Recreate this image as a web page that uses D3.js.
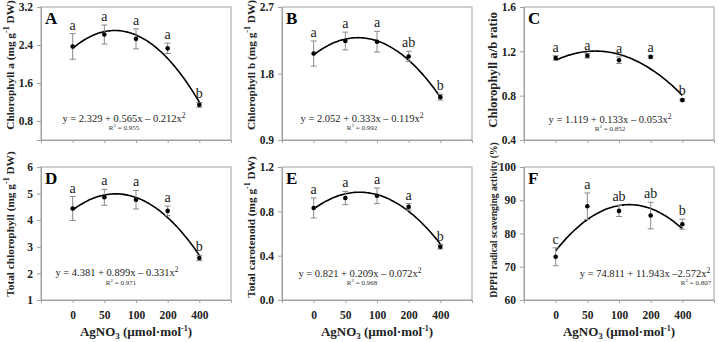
<!DOCTYPE html>
<html>
<head>
<meta charset="utf-8">
<script src="https://cdn.jsdelivr.net/npm/d3@7"></script>
<style>
  body { margin: 0; background: #fff; }
  text { font-family: "Liberation Serif", "Times New Roman", serif; }
</style>
</head>
<body>
<div id="chart"></div>
<script>
// doses of AgNO3 (umol mol-1)
const doses = ["0", "50", "100", "200", "400"];

// A: chlorophyll a
const chlA = [2.37, 2.62, 2.53, 2.33, 1.14];
const chlAErr = [0.27, 0.20, 0.21, 0.11, 0.05];
const chlALetters = ["a", "a", "a", "a", "b"];
const chlAFit = [2.329, 0.565, -0.212];

// B: chlorophyll b
const chlB = [2.07, 2.24, 2.23, 2.03, 1.48];
const chlBErr = [0.17, 0.12, 0.14, 0.07, 0.04];
const chlBLetters = ["a", "a", "a", "ab", "b"];
const chlBFit = [2.052, 0.333, -0.119];

// C: a/b ratio
const ratioAB = [1.14, 1.16, 1.12, 1.15, 0.76];
const ratioABErr = [0.02, 0.02, 0.03, 0.01, 0.01];
const ratioABLetters = ["a", "a", "a", "a", "b"];
const ratioABFit = [1.119, 0.133, -0.053];

// D: total chlorophyll
const totChl = [4.44, 4.86, 4.77, 4.35, 2.58];
const totChlErr = [0.45, 0.30, 0.35, 0.18, 0.10];
const totChlLetters = ["a", "a", "a", "a", "b"];
const totChlFit = [4.381, 0.899, -0.331];

// E: total carotenoid
const carot = [0.83, 0.92, 0.94, 0.84, 0.48];
const carotErr = [0.09, 0.06, 0.07, 0.03, 0.02];
const carotLetters = ["a", "a", "a", "a", "b"];
const carotFit = [0.821, 0.209, -0.072];

// F: DPPH scavenging
const dpph = [73.0, 88.2, 86.8, 85.4, 82.8];
const dpphErr = [2.7, 4.0, 1.7, 4.0, 1.5];
const dpphLetters = ["c", "a", "ab", "ab", "b"];
const dpphFit = [74.811, 11.943, -2.572];

const svg = d3.select("#chart")
    .append("svg")
    .attr("width", 719)
    .attr("height", 342);

const pw = 190, ph = 133;
const font = "'Liberation Serif', 'Times New Roman', serif";

let panels = [
    { id: "A", left: 41, top: 7, title: ["Chlorophyll a (mg g", "-1", " DW)"], tsize: 11.3, tmid: 58,
      domain: [0.4, 3.2], ticks: [0.8, 1.6, 2.4, 3.2], fmt: d3.format(".1f"),
      vals: chlA, errs: chlAErr, letters: chlALetters, fit: chlAFit,
      eq: ["y = 2.329 + 0.565x \u2013 0.212x", "2"], r2: "0.955", eqx: 83, eqy: 115, r2x: 83, r2y: 122.5, xlab: false },
    { id: "B", left: 282, top: 7, title: ["Chlorophyll b (mg g", "-1", " DW)"], tsize: 11.3, tmid: 58,
      domain: [0.9, 2.7], ticks: [0.9, 1.8, 2.7], fmt: d3.format(".1f"),
      vals: chlB, errs: chlBErr, letters: chlBLetters, fit: chlBFit,
      eq: ["y = 2.052 + 0.333x \u2013 0.119x", "2"], r2: "0.992", eqx: 80, eqy: 115, r2x: 80, r2y: 122.5, xlab: false },
    { id: "C", left: 524, top: 7, title: ["Chlorophyll a/b ratio", "", ""], tsize: 12.8, tmid: 63,
      domain: [0.4, 1.6], ticks: [0.4, 0.8, 1.2, 1.6], fmt: d3.format(".1f"),
      vals: ratioAB, errs: ratioABErr, letters: ratioABLetters, fit: ratioABFit,
      eq: ["y = 1.119 + 0.133x \u2013 0.053x", "2"], r2: "0.852", eqx: 86, eqy: 116, r2x: 86, r2y: 123.5, xlab: false },
    { id: "D", left: 41, top: 167, title: ["Total chlorophyll (mg g", "-1", " DW)"], tsize: 11.3, tmid: 57,
      domain: [1, 6], ticks: [1, 2, 3, 4, 5, 6], fmt: d3.format("d"),
      vals: totChl, errs: totChlErr, letters: totChlLetters, fit: totChlFit,
      eq: ["y = 4.381 + 0.899x \u2013 0.331x", "2"], r2: "0.971", eqx: 76, eqy: 109, r2x: 80, r2y: 118, xlab: true },
    { id: "E", left: 282, top: 167, title: ["Total carotenoid (mg g", "-1", " DW)"], tsize: 11.3, tmid: 60,
      domain: [0, 1.2], ticks: [0, 0.4, 0.8, 1.2], fmt: d3.format(".1f"),
      vals: carot, errs: carotErr, letters: carotLetters, fit: carotFit,
      eq: ["y = 0.821 + 0.209x \u2013 0.072x", "2"], r2: "0.968", eqx: 78, eqy: 110, r2x: 80, r2y: 117.5, xlab: true },
    { id: "F", left: 524, top: 167, title: ["DPPH radical scavenging activity (%)", "", ""], tsize: 9.6, tmid: 53,
      domain: [60, 100], ticks: [60, 70, 80, 90, 100], fmt: d3.format("d"),
      vals: dpph, errs: dpphErr, letters: dpphLetters, fit: dpphFit,
      eq: ["y = 74.811 + 11.943x \u20132.572x", "2"], r2: "0.807", eqx: 121, eqy: 110, r2x: 172, r2y: 117.5, xlab: true }
];

panels.forEach(function (p) {
    let g = svg.append("g").attr("transform", "translate(" + p.left + "," + p.top + ")");

    let x = d3.scaleLinear().domain([-1, 5]).range([0, pw]);
    let y = d3.scaleLinear().domain(p.domain).range([ph, 0]);

    // frame
    g.append("rect")
        .attr("width", pw).attr("height", ph)
        .attr("fill", "none").attr("stroke", "#a0a0a0").attr("stroke-width", 1);

    // y axis
    let yAxis = g.append("g")
        .call(d3.axisLeft(y).tickValues(p.ticks).tickFormat(p.fmt).tickSize(4).tickPadding(4));
    yAxis.select(".domain").attr("stroke", "#a0a0a0");
    yAxis.selectAll(".tick line").attr("stroke", "#a0a0a0");
    yAxis.selectAll("text")
        .style("font-family", font).style("font-size", "11.5px")
        .style("font-weight", "bold").attr("fill", "#222");

    // x axis
    let xAxis = g.append("g")
        .attr("transform", "translate(0," + ph + ")")
        .call(d3.axisBottom(x).tickValues([0, 1, 2, 3, 4])
            .tickFormat(i => p.xlab ? doses[i] : "").tickSize(3).tickPadding(8));
    xAxis.select(".domain").attr("stroke", "#a0a0a0");
    xAxis.selectAll(".tick line").attr("stroke", "#a0a0a0");
    xAxis.selectAll("text")
        .style("font-family", font).style("font-size", "11.5px")
        .style("font-weight", "bold").attr("fill", "#222");

    // fitted quadratic curve from the printed equation
    let xs = d3.range(0, 4.001, 0.05);
    let line = d3.line()
        .x(d => x(d))
        .y(d => y(p.fit[0] + p.fit[1] * d + p.fit[2] * d * d))
        .curve(d3.curveBasis);
    g.append("path")
        .datum(xs)
        .attr("d", line)
        .attr("fill", "none")
        .attr("stroke", "black")
        .attr("stroke-width", 1.6);

    // error bars
    let eb = g.append("g").selectAll("g")
        .data(p.vals)
        .enter()
        .append("g")
        .attr("stroke", "#8a8a8a")
        .attr("stroke-width", 1);
    eb.append("line")
        .attr("x1", (d, i) => x(i)).attr("x2", (d, i) => x(i))
        .attr("y1", (d, i) => y(d - p.errs[i])).attr("y2", (d, i) => y(d + p.errs[i]));
    eb.append("line")
        .attr("x1", (d, i) => x(i) - 3).attr("x2", (d, i) => x(i) + 3)
        .attr("y1", (d, i) => y(d + p.errs[i])).attr("y2", (d, i) => y(d + p.errs[i]));
    eb.append("line")
        .attr("x1", (d, i) => x(i) - 3).attr("x2", (d, i) => x(i) + 3)
        .attr("y1", (d, i) => y(d - p.errs[i])).attr("y2", (d, i) => y(d - p.errs[i]));

    // points
    g.append("g").selectAll("circle")
        .data(p.vals)
        .enter()
        .append("circle")
        .attr("cx", (d, i) => x(i))
        .attr("cy", d => y(d))
        .attr("r", 2.3)
        .attr("fill", "black");

    // significance letters
    g.append("g").selectAll("text")
        .data(p.letters)
        .enter()
        .append("text")
        .attr("x", (d, i) => x(i))
        .attr("y", (d, i) => y(p.vals[i] + p.errs[i]) - 4)
        .attr("text-anchor", "middle")
        .style("font-size", "14px")
        .attr("fill", "#222")
        .text(d => d);

    // panel letter
    g.append("text")
        .attr("x", 4).attr("y", 17)
        .style("font-size", "17px").style("font-weight", "bold")
        .text(p.id);

    // equation and R2
    let eq = g.append("text")
        .attr("x", p.eqx).attr("y", p.eqy)
        .attr("text-anchor", "middle")
        .style("font-size", "10.5px")
        .attr("fill", "#222");
    eq.append("tspan").text(p.eq[0]);
    eq.append("tspan").attr("dy", -4).style("font-size", "7.5px").text(p.eq[1]);

    let r2 = g.append("text")
        .attr("x", p.r2x).attr("y", p.r2y)
        .attr("text-anchor", "middle")
        .style("font-size", "7px")
        .attr("fill", "#333");
    r2.append("tspan").text("R");
    r2.append("tspan").attr("dy", -3).style("font-size", "5px").text("2");
    r2.append("tspan").attr("dy", 3).text(" = " + p.r2);

    // y title
    let yt = g.append("text")
        .attr("transform", "translate(-27," + p.tmid + ") rotate(-90)")
        .attr("text-anchor", "middle")
        .style("font-size", p.tsize + "px")
        .style("font-weight", "bold")
        .attr("fill", "#222");
    yt.append("tspan").text(p.title[0]);
    if (p.title[1]) {
        yt.append("tspan").attr("dy", -5).style("font-size", "8px").text(p.title[1]);
        yt.append("tspan").attr("dy", 5).text(p.title[2]);
    }

    // x title on bottom row
    if (p.xlab) {
        let xt = g.append("text")
            .attr("x", pw / 2).attr("y", ph + 36)
            .attr("text-anchor", "middle")
            .style("font-size", "13px")
            .style("font-weight", "bold")
            .attr("fill", "#222");
        xt.append("tspan").text("AgNO");
        xt.append("tspan").attr("dy", 3).style("font-size", "9px").text("3");
        xt.append("tspan").attr("dy", -3).text(" (\u00b5mol\u00b7mol");
        xt.append("tspan").attr("dy", -5).style("font-size", "8px").text("-1");
        xt.append("tspan").attr("dy", 5).text(")");
    }
});
</script>
</body>
</html>
